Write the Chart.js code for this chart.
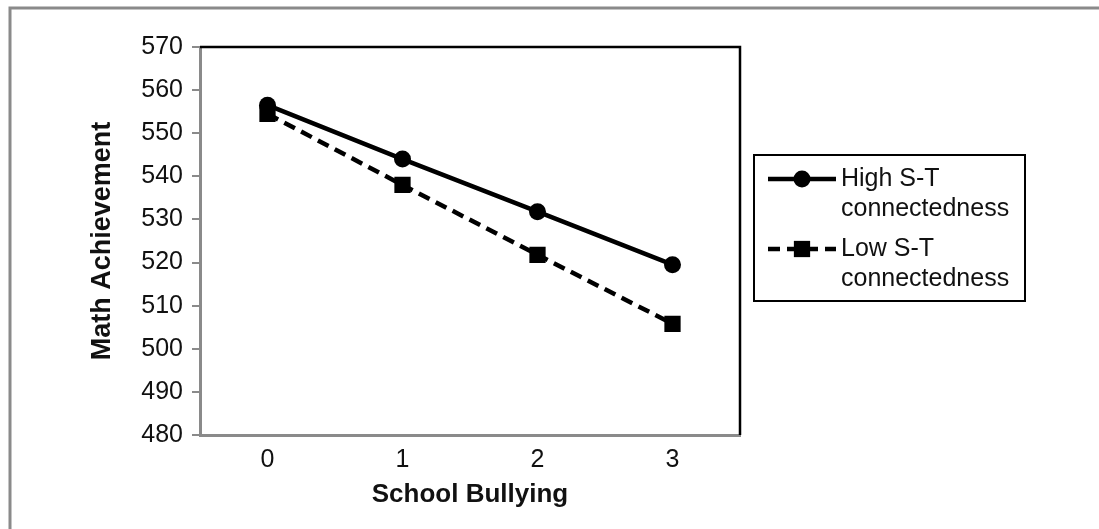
<!DOCTYPE html>
<html>
<head>
<meta charset="utf-8">
<script src="https://cdn.jsdelivr.net/npm/chart.js@4.4.1/dist/chart.umd.min.js"></script>
<style>
  html, body { margin: 0; padding: 0; background: #ffffff; }
  #wrap { position: relative; width: 1099px; height: 529px; }
</style>
</head>
<body>
<div id="wrap"><canvas id="c"></canvas></div>
<script>
// ---- data ----
const categories = ['0', '1', '2', '3'];
const highValues = [556.5, 544, 531.8, 519.5];
const lowValues = [554.5, 538, 521.8, 505.8];
const seriesNames = [['High S-T', 'connectedness'], ['Low S-T', 'connectedness']];
const yTicks = [480, 490, 500, 510, 520, 530, 540, 550, 560, 570];
const xTitle = 'School Bullying';
const yTitle = 'Math Achievement';

const FONT = '"Liberation Sans", Arial, Helvetica, sans-serif';
const GRAY = '#8a8a8a';
const INK = '#111111';

const framePlugin = {
  id: 'frames',
  beforeDraw(chart) {
    const ctx = chart.ctx;
    ctx.save();
    ctx.strokeStyle = GRAY;
    ctx.lineWidth = 3;
    ctx.beginPath();
    ctx.moveTo(10, chart.height);
    ctx.lineTo(10, 8);
    ctx.lineTo(chart.width, 8);
    ctx.stroke();
    ctx.restore();
  },
  afterDraw(chart) {
    const ctx = chart.ctx;
    const a = chart.chartArea;
    ctx.save();
    // top and right black borders of plot
    ctx.strokeStyle = '#000';
    ctx.lineWidth = 2.5;
    ctx.beginPath();
    ctx.moveTo(a.left, a.top);
    ctx.lineTo(a.right, a.top);
    ctx.lineTo(a.right, a.bottom);
    ctx.stroke();

    // legend
    const bx = 754, by = 155, bw = 271, bh = 146;
    ctx.lineWidth = 2;
    ctx.strokeStyle = '#000';
    ctx.strokeRect(bx, by, bw, bh);
    ctx.font = '25px ' + FONT;
    ctx.fillStyle = INK;
    ctx.textBaseline = 'middle';
    ctx.textAlign = 'left';
    const rows = [179, 249];
    chart.data.datasets.forEach((ds, i) => {
      const y = rows[i];
      ctx.save();
      ctx.strokeStyle = '#000';
      ctx.lineWidth = ds.borderWidth;
      ctx.setLineDash(ds.borderDash || []);
      ctx.beginPath();
      ctx.moveTo(768, y);
      ctx.lineTo(836, y);
      ctx.stroke();
      ctx.setLineDash([]);
      ctx.fillStyle = '#000';
      Chart.helpers.drawPoint(ctx, { pointStyle: ds.pointStyle, radius: ds.pointRadius, borderWidth: 0 }, 802, y);
      ctx.restore();
      const lines = seriesNames[i];
      lines.forEach((t, k) => ctx.fillText(t, 841, y + k * 30));
    });
    ctx.restore();
  }
};

new Chart(document.getElementById('c'), {
  type: 'line',
  data: {
    labels: categories,
    datasets: [
      {
        label: seriesNames[0].join(' '),
        data: highValues,
        borderColor: '#000',
        backgroundColor: '#000',
        borderWidth: 4.5,
        pointStyle: 'circle',
        pointRadius: 8.5,
        pointBackgroundColor: '#000',
        pointBorderWidth: 0,
        tension: 0,
        fill: false
      },
      {
        label: seriesNames[1].join(' '),
        data: lowValues,
        borderColor: '#000',
        backgroundColor: '#000',
        borderWidth: 4.5,
        borderDash: [12, 7],
        pointStyle: 'rect',
        pointRadius: 11.5,
        pointBackgroundColor: '#000',
        pointBorderWidth: 0,
        tension: 0,
        fill: false
      }
    ]
  },
  options: {
    responsive: true,
    maintainAspectRatio: false,
    animation: false,
    events: [],
    layout: { padding: { top: 47, right: 359, bottom: 0, left: 0 } },
    plugins: { legend: { display: false }, tooltip: { enabled: false } },
    scales: {
      x: {
        type: 'category',
        offset: true,
        grid: { display: false, drawTicks: false },
        border: { display: true, color: GRAY, width: 3 },
        ticks: { color: INK, font: { family: FONT, size: 25 }, padding: 10 },
        title: { display: true, text: xTitle, color: INK, font: { family: FONT, size: 26, weight: 'bold' }, padding: { top: 0, bottom: 19 } },
        afterFit(s) { s.height = 94; }
      },
      y: {
        min: 480,
        max: 570,
        afterBuildTicks(s) { s.ticks = yTicks.map(v => ({ value: v })); },
        grid: { display: true, drawOnChartArea: false, drawTicks: true, tickLength: 8, tickColor: GRAY, lineWidth: 2 },
        border: { display: true, color: GRAY, width: 3 },
        ticks: { color: INK, font: { family: FONT, size: 25 }, padding: 9 },
        title: { display: true, text: yTitle, color: INK, font: { family: FONT, size: 27, weight: 'bold' }, padding: { top: 86, bottom: 0 } },
        afterFit(s) { s.width = 200; }
      }
    }
  },
  plugins: [framePlugin]
});
</script>
</body>
</html>
